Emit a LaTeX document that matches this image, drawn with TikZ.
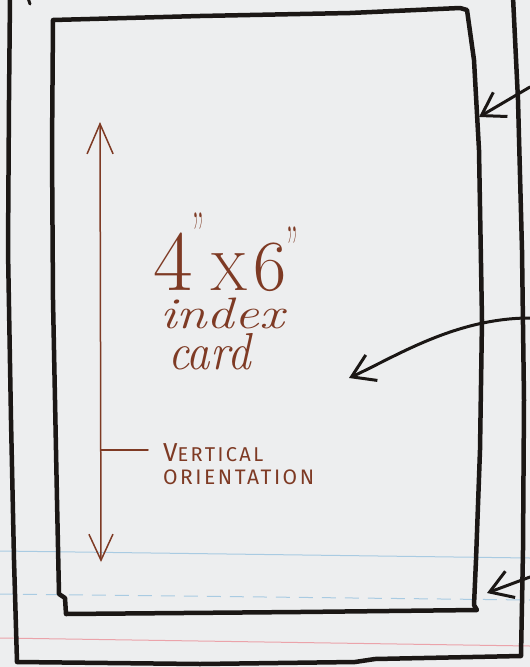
\documentclass[tikz,border=0pt]{standalone}
\usepackage{fontspec}
\newfontfamily\capsfont[LetterSpace=12]{Fira Sans}
\usetikzlibrary{arrows.meta}
\definecolor{paper}{HTML}{EDEEEF}
\definecolor{ink}{HTML}{1B1715}
\definecolor{brownink}{HTML}{7E3A24}
\definecolor{ruleblue}{HTML}{A9CBE2}
\definecolor{rulered}{HTML}{EBA3AA}
\tikzset{
  frame/.style={draw=ink, line width=4.5pt, line join=round, line cap=round},
  pointer/.style={draw=ink, line width=3pt, line cap=round, line join=round,
    -{Straight Barb[length=22pt,width=28pt]}},
  measure/.style={draw=brownink, line width=1.5pt, line cap=round,
    {Straight Barb[length=30pt,width=26pt]}-{Straight Barb[length=26pt,width=24pt]}},
  tickline/.style={draw=brownink, line width=1.5pt, line cap=round},
  handtext/.style={text=brownink, inner sep=0pt},
  paperline/.style={line width=1pt},
}
\newcommand{\inchmark}{\scalebox{0.45}[1]{\fontsize{60}{60}\selectfont "}}
\begin{document}
\begin{tikzpicture}[x=1pt,y=-1pt]
\path[fill=paper] (0,0) rectangle (530,667);
\useasboundingbox (0,0) rectangle (530,667);

% ruled paper lines
\draw[paperline, ruleblue] (0,551) -- (530,558);
\draw[paperline, ruleblue, dash pattern=on 14pt off 9pt] (0,594) -- (530,600);
\draw[paperline, rulered] (0,638) -- (530,646);

% outer card
\draw[frame] (10,-3) -- (9,100) -- (8,250) -- (11,420) -- (14,560) -- (17,662)
  -- (200,664) -- (355,662) -- (375,659) -- (521,656)
  -- (523,550) -- (524,400) -- (522,250) -- (518,100) -- (513,-3);
\draw[ink, line width=3pt, line cap=round] (28,-2) -- (30,4);

% inner card (4x6 index card)
\draw[frame] (53,20) -- (200,16) -- (350,13) -- (460,8) -- (467,10)
  -- (474,60) -- (479,150) -- (482,320) -- (480,450) -- (476,560)
  -- (474,605) -- (477,610) -- (300,612) -- (66,614) -- (65,598)
  -- (59,594) -- (57,500) -- (53,300) -- (52,150) -- cycle;

% pointer arrows from the right margin
\coordinate (p1s) at (530,87);
\coordinate (p1e) at (479,117);
\coordinate (p2s) at (530,318);
\coordinate (p2e) at (349,378);
\coordinate (p3s) at (530,577);
\coordinate (p3e) at (487,593);
\draw[pointer] (p1s) -- (p1e);
\draw[pointer] (p2s) .. controls (455,318) and (395,357) .. (p2e);
\draw[pointer] (p3s) -- (p3e);

% vertical measure arrow
\coordinate (atop) at (100,122);
\coordinate (abot) at (101,562);
\draw[measure] (atop) -- (abot);
\coordinate (tickL) at (101,450);
\coordinate (tickR) at (148,450);
\draw[tickline] (tickL) -- (tickR);

% texts
\node[handtext, anchor=base west, text depth=0pt] (dims) at (153,290) {%
  {\fontsize{86}{86}\selectfont 4}%
  \raisebox{36pt}{\inchmark}%
  \hspace{6pt}%
  {\fontsize{54}{54}\selectfont X}%
  \hspace{6pt}%
  {\fontsize{72}{72}\selectfont 6}%
  \raisebox{22pt}{\inchmark}};
\node[handtext, anchor=base west, text height=29pt, text depth=0pt] (index) at (160,328)
  {\scalebox{1.25}[1]{\fontsize{44}{44}\selectfont\itshape index}};
\node[handtext, anchor=base west, text height=34pt, text depth=0pt] (card) at (168,369)
  {\scalebox{0.9}[1]{\fontsize{52}{52}\selectfont\itshape card}};
\node[handtext, anchor=base west] (vert) at (163,461)
  {\capsfont{\fontsize{26}{26}\selectfont V}{\fontsize{20}{20}\selectfont ERTICAL}};
\node[handtext, anchor=base west] (orient) at (163,484)
  {\capsfont\fontsize{21}{21}\selectfont ORIENTATION};
\end{tikzpicture}
\end{document}
